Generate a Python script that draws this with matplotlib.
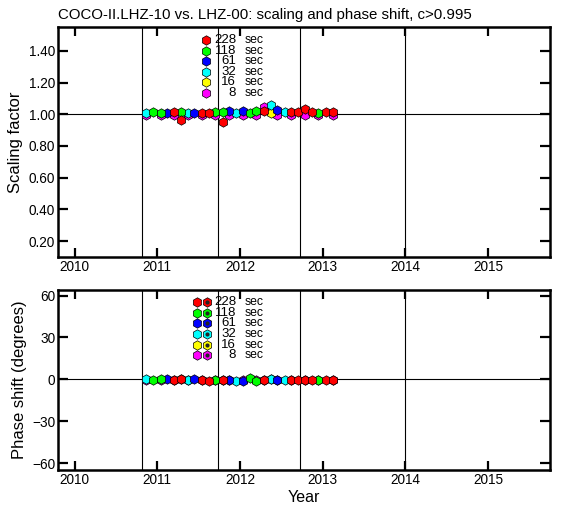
import numpy as np
import matplotlib
matplotlib.use("Agg")
import matplotlib.pyplot as plt

plt.rcParams['font.family'] = ['Liberation Sans', 'DejaVu Sans']

TITLE = "COCO-II.LHZ-10 vs. LHZ-00: scaling and phase shift, c>0.995"

# decimal-year sample dates (monthly)
dates = [2010.87, 2010.95, 2011.04, 2011.12, 2011.20, 2011.29, 2011.37,
         2011.45, 2011.54, 2011.62, 2011.70, 2011.79, 2011.87, 2011.95,
         2012.04, 2012.12, 2012.20, 2012.29, 2012.37, 2012.45, 2012.54,
         2012.62, 2012.70, 2012.79, 2012.87, 2012.95, 2013.04, 2013.12]

# per period: indices into dates, scaling factor, phase shift (deg)
idx_228 = [4, 5, 8, 9, 11, 17, 21, 22, 23, 24, 26, 27]
scl_228 = [1.012, 0.962, 1.010, 1.008, 0.951, 1.020, 1.012, 1.012, 1.030, 1.012, 1.012, 1.012]
phs_228 = [-0.5, 0.5, -0.5, -1.0, -0.5, -0.5, -0.5, -0.5, -0.5, -0.5, -0.5, -0.5]

idx_118 = [1, 2, 5, 10, 11, 15, 16, 25]
scl_118 = [1.015, 1.010, 1.015, 1.012, 1.015, 1.010, 1.020, 1.010]
phs_118 = [-0.5, 0.0, 0.0, -0.5, -0.5, 1.0, -1.0, -0.5]

idx_61 = [3, 7, 12, 14, 19]
scl_61 = [1.010, 1.010, 1.020, 1.018, 1.025]
phs_61 = [0.5, 0.5, -0.5, -1.0, -0.5]

idx_32 = [0, 6, 13, 18, 20]
scl_32 = [1.008, 1.008, 1.008, 1.060, 1.012]
phs_32 = [0.0, -0.5, -1.0, 0.0, -0.5]

idx_16 = [18]
scl_16 = [1.008]
phs_16 = [0.0]

idx_8 = [0, 2, 4, 6, 8, 10, 12, 14, 16, 17, 19, 21, 23, 25, 27]
scl_8 = [0.993, 0.993, 0.994, 0.993, 0.994, 0.993, 0.995, 0.994, 0.996, 1.045, 0.996, 0.995, 0.998, 0.994, 0.995]
phs_8 = [-0.8, -0.8, -0.8, -0.8, -0.8, -0.8, -0.8, -0.8, -0.8, -0.8, -0.8, -0.8, -0.8, -0.8, -0.8]

periods = ["228", "118", "61", "32", "16", "8"]
colors = ["#ff0000", "#00ff00", "#0000ff", "#00ffff", "#ffff00", "#ff00ff"]
series = [(idx_228, scl_228, phs_228), (idx_118, scl_118, phs_118),
          (idx_61, scl_61, phs_61), (idx_32, scl_32, phs_32),
          (idx_16, scl_16, phs_16), (idx_8, scl_8, phs_8)]

# instrument change marks
vlines = [2010.81, 2011.73, 2012.73, 2014.0]
years = [2010, 2011, 2012, 2013, 2014, 2015]

MS = 6.8

fig = plt.figure(figsize=(5.61, 5.05), dpi=100)
ax1 = fig.add_axes([0.1034, 0.4911, 0.877, 0.4554])
ax2 = fig.add_axes([0.1034, 0.0693, 0.877, 0.3564])

for ax in (ax1, ax2):
    ax.set_xlim(2009.8, 2015.75)
    ax.set_xticks(years)
    ax.set_xticklabels([str(y) for y in years])
    for v in vlines:
        ax.axvline(v, color="k", lw=0.8, zorder=1)
    for s in ax.spines.values():
        s.set_linewidth(1.8)
    ax.tick_params(direction="in", length=7, width=1.6, top=True, right=True,
                   labelsize=9.8, pad=2)
    ax.tick_params(axis="x", length=6.5, pad=2)

ax1.axhline(1.0, color="k", lw=0.8, zorder=1)
ax2.axhline(0.0, color="k", lw=0.8, zorder=1)

# draw from short period to long so the long periods end up on top
for i in range(len(periods) - 1, -1, -1):
    idx, scl, phs = series[i]
    x = [dates[k] for k in idx]
    ax1.plot(x, scl, "h", ms=MS, mfc=colors[i], mec="k", mew=0.5, zorder=3)
    ax2.plot(x, phs, "h", ms=MS, mfc=colors[i], mec="k", mew=0.5, zorder=3)

ax1.set_ylim(0.1, 1.55)
ax1.set_yticks([0.2, 0.4, 0.6, 0.8, 1.0, 1.2, 1.4])
ax1.set_yticklabels(["0.20", "0.40", "0.60", "0.80", "1.00", "1.20", "1.40"])
ax1.set_ylabel("Scaling factor", fontsize=12, labelpad=4)

ax2.set_ylim(-65, 64)
ax2.set_yticks([-60, -30, 0, 30, 60])
ax2.set_yticklabels(["\u221260", "\u221230", "0", "30", "60"])
ax2.set_ylabel("Phase shift (degrees)", fontsize=12, labelpad=4)
ax2.set_xlabel("Year", fontsize=11.5, labelpad=2)

# legends drawn by hand, numbers right-aligned
for i, p in enumerate(periods):
    y1 = 0.943 - i * 0.046
    ax1.plot(0.301, y1, "h", ms=MS, mfc=colors[i], mec="k", mew=0.5,
             transform=ax1.transAxes, clip_on=False)
    ax1.text(0.362, y1, p, ha="right", va="center", fontsize=9.5, transform=ax1.transAxes)
    ax1.text(0.380, y1, "sec", ha="left", va="center", fontsize=8.8, transform=ax1.transAxes)

    y2 = 0.933 - i * 0.059
    ax2.plot(0.283, y2, "h", ms=MS, mfc=colors[i], mec="k", mew=0.5,
             transform=ax2.transAxes, clip_on=False)
    ax2.plot(0.303, y2, "h", ms=MS, mfc=colors[i], mec="k", mew=0.5,
             transform=ax2.transAxes, clip_on=False)
    ax2.plot(0.303, y2, "o", ms=3, mfc="#222222", mec="none",
             transform=ax2.transAxes, clip_on=False)
    ax2.text(0.362, y2, p, ha="right", va="center", fontsize=9.5, transform=ax2.transAxes)
    ax2.text(0.380, y2, "sec", ha="left", va="center", fontsize=8.8, transform=ax2.transAxes)

fig.text(0.1034, 0.970, TITLE, ha="left", va="center", fontsize=10.8)

fig.savefig("out.png", dpi=100)
